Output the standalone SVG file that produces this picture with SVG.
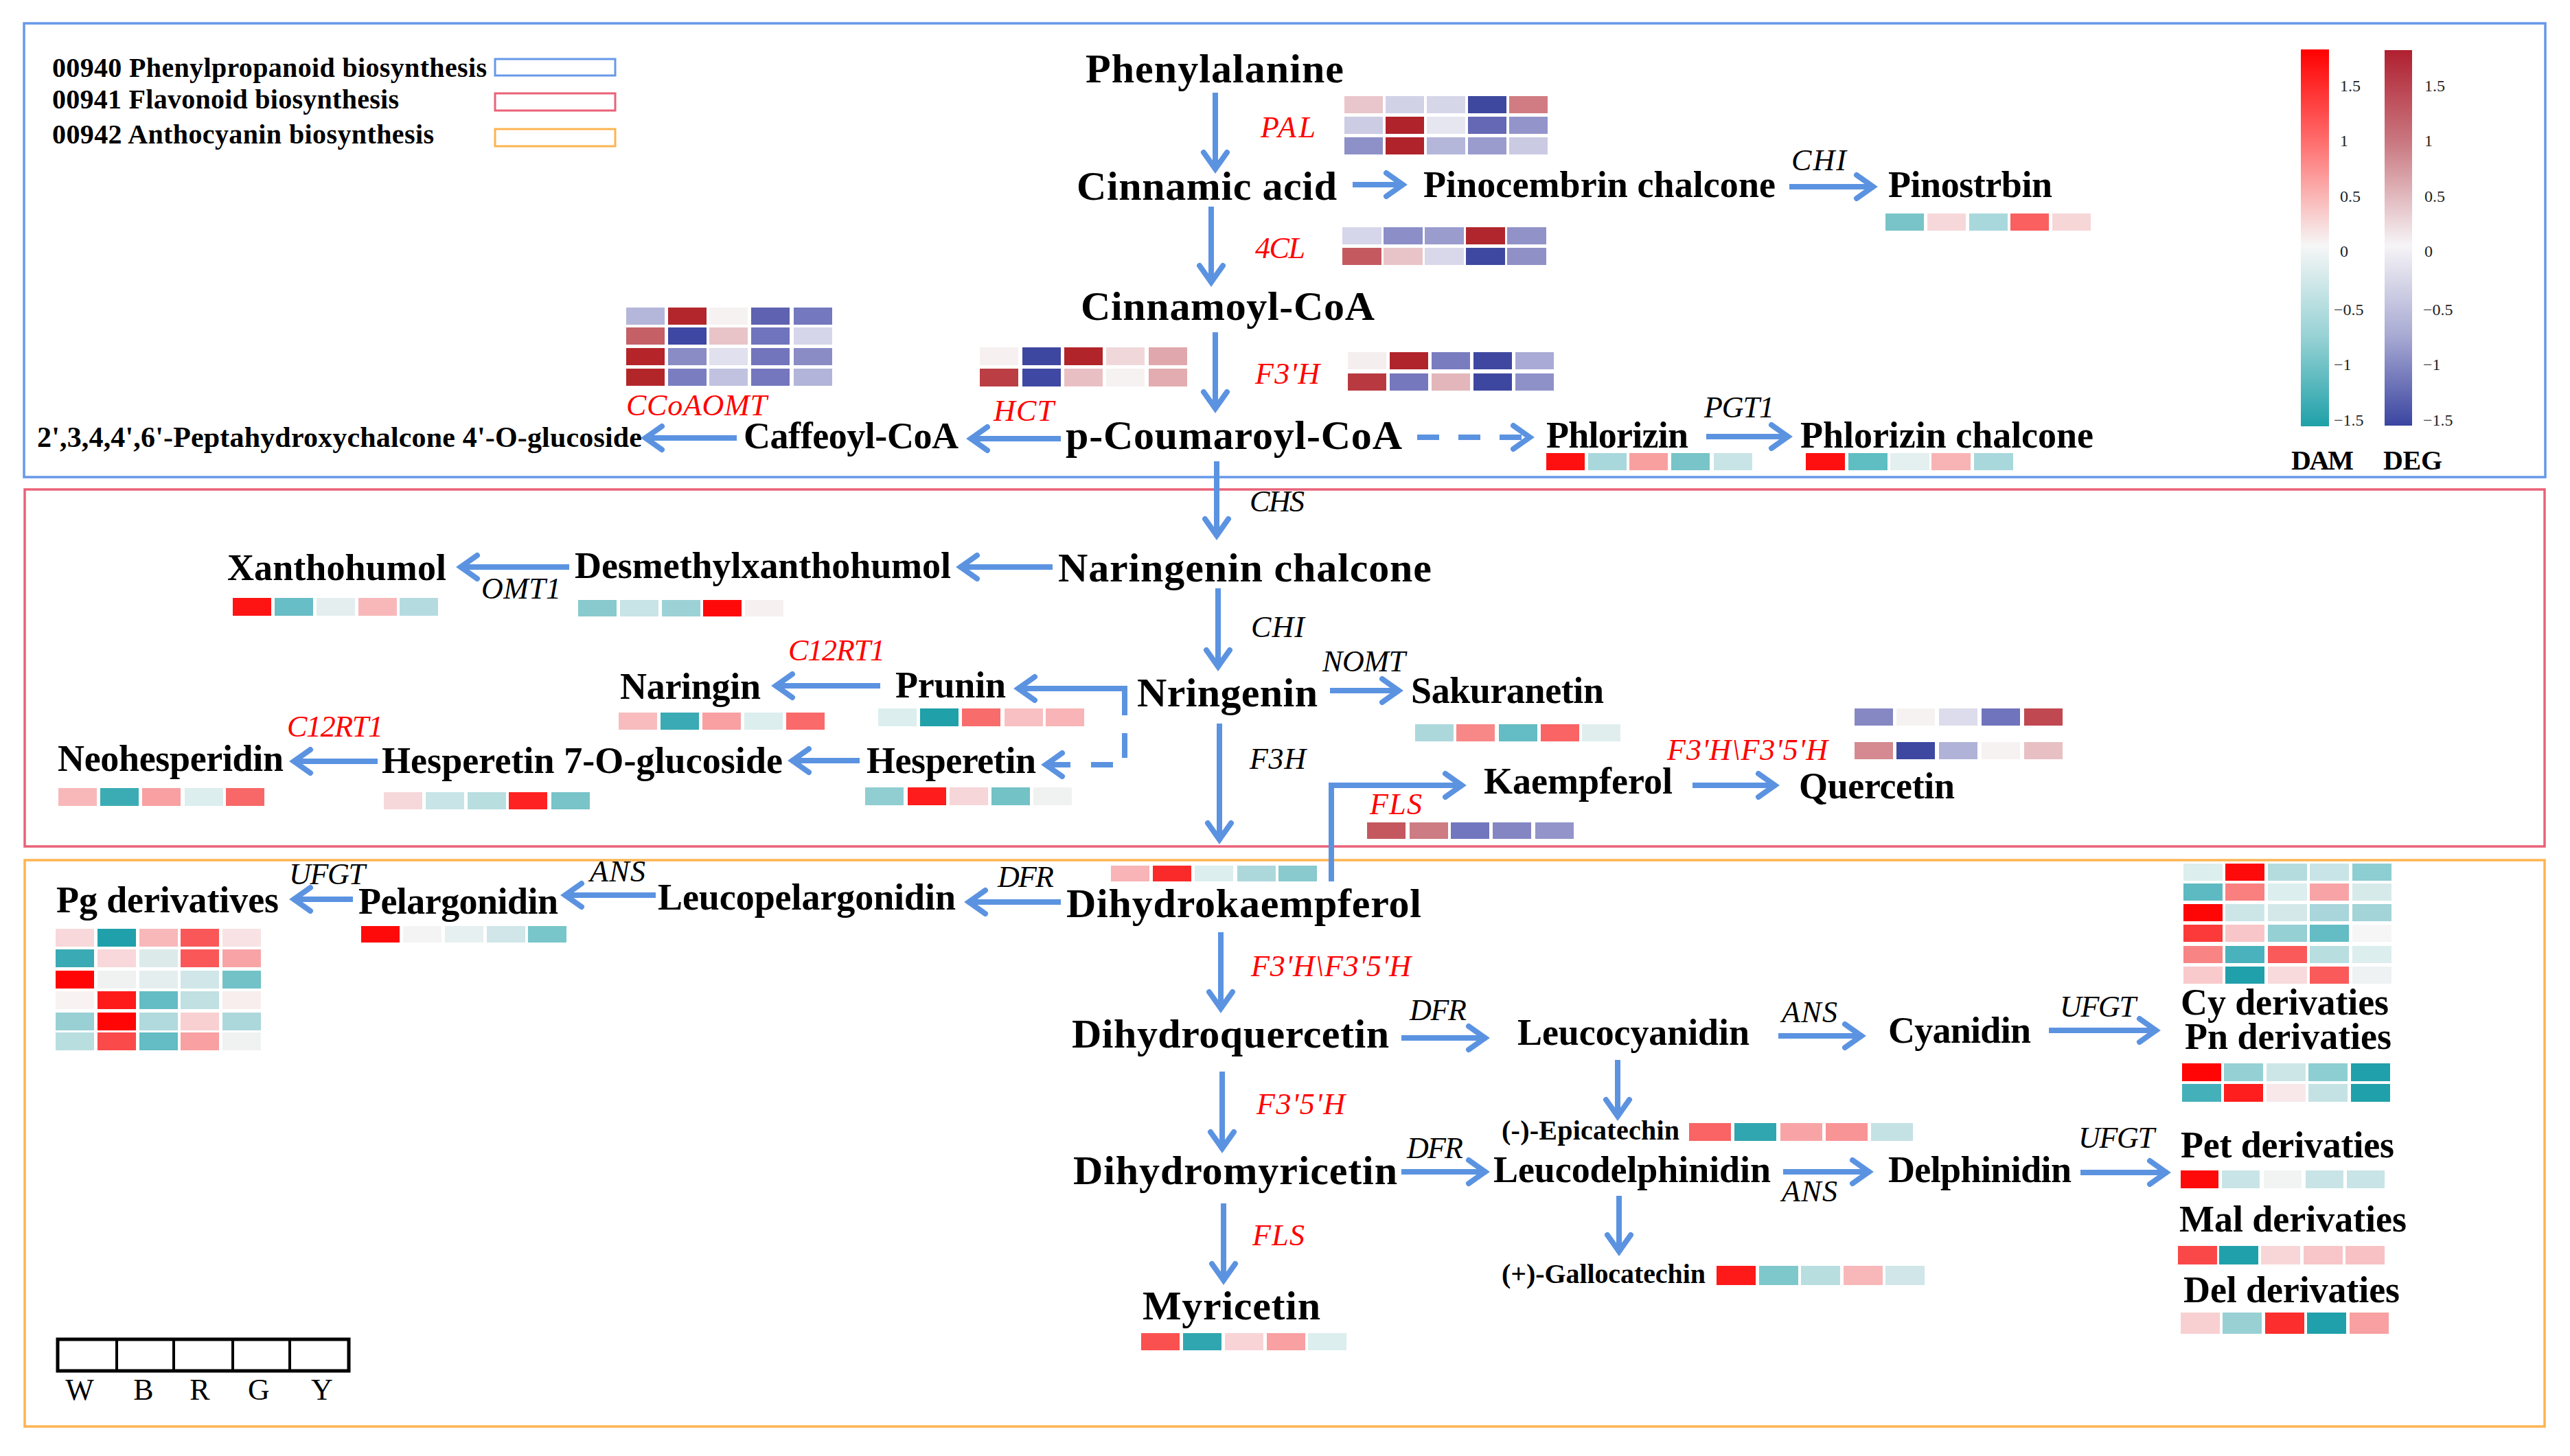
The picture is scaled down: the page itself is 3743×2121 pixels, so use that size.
<svg xmlns="http://www.w3.org/2000/svg" width="3743" height="2121" viewBox="0 0 3743 2121">
<style>
.n{font-family:"Liberation Serif","Times New Roman",serif;font-weight:bold;fill:#000}
.m{font-size:60px}.s{font-size:54px}.t{font-size:40px}
.e{font-family:"Liberation Serif","Times New Roman",serif;font-style:italic;font-size:44px}
.r{fill:#FF0000}.k{fill:#000}
.a{fill:none;stroke:#5B93E1;stroke-width:8;marker-end:url(#ah)}
.tk{font-family:"Liberation Serif","Times New Roman",serif;font-size:24px;fill:#222}
.lg{font-family:"Liberation Serif","Times New Roman",serif;font-weight:bold;font-size:40px;fill:#000}
.sc{font-family:"Liberation Serif","Times New Roman",serif;font-size:44px;fill:#000}
</style>
<defs>
<marker id="ah" viewBox="-40 -30 50 60" refX="0" refY="0" markerWidth="50" markerHeight="60" markerUnits="userSpaceOnUse" orient="auto">
<path d="M-26,-17 L-2,0 L-26,17" fill="none" stroke="#5B93E1" stroke-width="8" stroke-linecap="round"/>
</marker>
<linearGradient id="gDAM" x1="0" y1="0" x2="0" y2="1">
<stop offset="0" stop-color="#FF0000"/><stop offset="0.25" stop-color="#FF7070"/><stop offset="0.52" stop-color="#F6F6F6"/><stop offset="0.76" stop-color="#98D2D5"/><stop offset="1" stop-color="#1FA0A8"/>
</linearGradient>
<linearGradient id="gDEG" x1="0" y1="0" x2="0" y2="1">
<stop offset="0" stop-color="#B02030"/><stop offset="0.25" stop-color="#CA7A82"/><stop offset="0.52" stop-color="#F6F4F6"/><stop offset="0.76" stop-color="#A8AAD3"/><stop offset="1" stop-color="#3A45A0"/>
</linearGradient>
</defs>
<rect width="3743" height="2121" fill="#fff"/>

<g id="sections" fill="none" stroke-width="3.5">
<rect x="35" y="34" width="3672" height="661" stroke="#6699E8"/>
<rect x="36" y="713" width="3670" height="520" stroke="#EA6278"/>
<rect x="36" y="1253" width="3670" height="825" stroke="#FDB450"/>
</g>

<g id="legend">
<text class="lg" x="76" y="112" textLength="633">00940 Phenylpropanoid biosynthesis</text>
<text class="lg" x="76" y="158" textLength="505">00941 Flavonoid biosynthesis</text>
<text class="lg" x="76" y="209" textLength="556">00942 Anthocyanin biosynthesis</text>
<rect x="721" y="86" width="175" height="24" fill="none" stroke="#6699E8" stroke-width="3"/>
<rect x="721" y="136" width="175" height="25" fill="none" stroke="#EA6278" stroke-width="3"/>
<rect x="721" y="188" width="175" height="25" fill="none" stroke="#FDB450" stroke-width="3"/>
</g>

<g id="colorbars">
<rect x="3351" y="72" width="41" height="549" fill="url(#gDAM)"/>
<rect x="3473" y="73" width="40" height="547" fill="url(#gDEG)"/>
<text class="tk" x="3408" y="133">1.5</text><text class="tk" x="3408" y="213">1</text><text class="tk" x="3408" y="294">0.5</text><text class="tk" x="3408" y="374">0</text><text class="tk" x="3399" y="459">−0.5</text><text class="tk" x="3399" y="539">−1</text><text class="tk" x="3399" y="620">−1.5</text>
<text class="tk" x="3531" y="133">1.5</text><text class="tk" x="3531" y="213">1</text><text class="tk" x="3531" y="294">0.5</text><text class="tk" x="3531" y="374">0</text><text class="tk" x="3529" y="459">−0.5</text><text class="tk" x="3529" y="539">−1</text><text class="tk" x="3529" y="620">−1.5</text>
<text class="lg" x="3337" y="684" textLength="91">DAM</text>
<text class="lg" x="3471" y="684" textLength="86">DEG</text>
</g>

<g id="scale">
<rect x="84" y="1951" width="424" height="46" fill="none" stroke="#000" stroke-width="5"/>
<path d="M170,1951V1997M253,1951V1997M339,1951V1997M422,1951V1997" stroke="#000" stroke-width="4"/>
<text class="sc" x="116" y="2039" text-anchor="middle">W</text>
<text class="sc" x="209" y="2039" text-anchor="middle">B</text>
<text class="sc" x="291" y="2039" text-anchor="middle">R</text>
<text class="sc" x="377" y="2039" text-anchor="middle">G</text>
<text class="sc" x="469" y="2039" text-anchor="middle">Y</text>
</g>

<g id="connectors">
<path class="a" d="M1770,135V248"/>
<path class="a" d="M1970,269H2045"/>
<path class="a" d="M2606,272H2730"/>
<path class="a" d="M1764,301V413"/>
<path class="a" d="M1770,484V597"/>
<path class="a" d="M1545,639H1412"/>
<path class="a" d="M1073,638H938"/>
<path class="a" d="M2064,637H2230" stroke-dasharray="32 28"/>
<path class="a" d="M2485,636H2606"/>
<path class="a" d="M1772,672V782"/>
<path class="a" d="M1533,826H1397"/>
<path class="a" d="M829,826H669"/>
<path class="a" d="M1774,857V973"/>
<path class="a" d="M1937,1006H2039"/>
<path class="a" d="M1638,1042V1003H1481"/>
<path class="a" d="M1638,1068V1114H1521" stroke-dasharray="36 27 32 30"/>
<path class="a" d="M1282,999H1128"/>
<path class="a" d="M1252,1108H1152"/>
<path class="a" d="M550,1109H426"/>
<path class="a" d="M1776,1054V1225"/>
<path class="a" d="M1939,1284V1144H2131"/>
<path class="a" d="M2465,1144H2587"/>
<path class="a" d="M1545,1314H1409"/>
<path class="a" d="M955,1304H821"/>
<path class="a" d="M514,1310H426"/>
<path class="a" d="M1778,1358V1471"/>
<path class="a" d="M2041,1512H2165"/>
<path class="a" d="M2590,1509H2713"/>
<path class="a" d="M2984,1501H3142"/>
<path class="a" d="M2356,1544V1628"/>
<path class="a" d="M1780,1561V1675"/>
<path class="a" d="M2041,1707H2165"/>
<path class="a" d="M2597,1707H2724"/>
<path class="a" d="M3030,1708H3157"/>
<path class="a" d="M2358,1742V1825"/>
<path class="a" d="M1782,1753V1867"/>
</g>

<g id="enzymes">
<text class="e r" x="1836" y="200" textLength="80">PAL</text>
<text class="e r" x="1828" y="376" textLength="73">4CL</text>
<text class="e r" x="1828" y="559" textLength="94">F3'H</text>
<text class="e r" x="1447" y="613" textLength="88">HCT</text>
<text class="e r" x="912" y="605" textLength="205">CCoAOMT</text>
<text class="e k" x="2609" y="248" textLength="80">CHI</text>
<text class="e k" x="2482" y="608" textLength="102">PGT1</text>
<text class="e k" x="1820" y="745" textLength="80">CHS</text>
<text class="e k" x="701" y="872" textLength="116">OMT1</text>
<text class="e k" x="1822" y="928" textLength="78">CHI</text>
<text class="e k" x="1926" y="978" textLength="121">NOMT</text>
<text class="e r" x="1148" y="962" textLength="141">C12RT1</text>
<text class="e r" x="418" y="1073" textLength="140">C12RT1</text>
<text class="e k" x="1820" y="1120" textLength="82">F3H</text>
<text class="e r" x="1995" y="1186" textLength="76">FLS</text>
<text class="e r" x="2428" y="1107" textLength="234">F3'H\F3'5'H</text>
<text class="e k" x="1453" y="1292" textLength="82">DFR</text>
<text class="e k" x="859" y="1284" textLength="81">ANS</text>
<text class="e k" x="421" y="1288" textLength="111">UFGT</text>
<text class="e r" x="1822" y="1422" textLength="233">F3'H\F3'5'H</text>
<text class="e k" x="2053" y="1486" textLength="83">DFR</text>
<text class="e k" x="2595" y="1489" textLength="81">ANS</text>
<text class="e k" x="3000" y="1481" textLength="111">UFGT</text>
<text class="e r" x="1830" y="1623" textLength="129">F3'5'H</text>
<text class="e k" x="2049" y="1687" textLength="82">DFR</text>
<text class="e k" x="2595" y="1750" textLength="81">ANS</text>
<text class="e k" x="3027" y="1672" textLength="111">UFGT</text>
<text class="e r" x="1824" y="1814" textLength="76">FLS</text>
</g>

<g id="hm-PAL">
<rect x="1958" y="140" width="56" height="25" fill="#E9C6CB"/><rect x="2018" y="140" width="56" height="25" fill="#D2D2E7"/><rect x="2078" y="140" width="56" height="25" fill="#D6D6E9"/><rect x="2138" y="140" width="56" height="25" fill="#3F489F"/><rect x="2198" y="140" width="56" height="25" fill="#D07C82"/>
<rect x="1958" y="170" width="56" height="25" fill="#CCCCE4"/><rect x="2018" y="170" width="56" height="25" fill="#B0232A"/><rect x="2078" y="170" width="56" height="25" fill="#E6E6F0"/><rect x="2138" y="170" width="56" height="25" fill="#6468B5"/><rect x="2198" y="170" width="56" height="25" fill="#9294CA"/>
<rect x="1958" y="200" width="56" height="25" fill="#8E90C8"/><rect x="2018" y="200" width="56" height="25" fill="#B0232A"/><rect x="2078" y="200" width="56" height="25" fill="#B5B7DA"/><rect x="2138" y="200" width="56" height="25" fill="#9A9CCE"/><rect x="2198" y="200" width="56" height="25" fill="#CACAE3"/>
</g>
<g id="hm-4CL">
<rect x="1955" y="331" width="57" height="25" fill="#D6D6EA"/><rect x="2015" y="331" width="57" height="25" fill="#8C8EC8"/><rect x="2075" y="331" width="57" height="25" fill="#9A9CCE"/><rect x="2135" y="331" width="57" height="25" fill="#B0262C"/><rect x="2195" y="331" width="57" height="25" fill="#9092C8"/>
<rect x="1955" y="361" width="57" height="25" fill="#C45A60"/><rect x="2015" y="361" width="57" height="25" fill="#E8C4C8"/><rect x="2075" y="361" width="57" height="25" fill="#D8D8EA"/><rect x="2135" y="361" width="57" height="25" fill="#3F48A0"/><rect x="2195" y="361" width="57" height="25" fill="#8E90C6"/>
</g>
<g id="hm-F3H-top">
<rect x="1963" y="513" width="56" height="25" fill="#F4EEEE"/><rect x="2024" y="513" width="56" height="25" fill="#B0252B"/><rect x="2085" y="513" width="56" height="25" fill="#7A7CC0"/><rect x="2146" y="513" width="56" height="25" fill="#3F47A0"/><rect x="2207" y="513" width="56" height="25" fill="#A9ABD6"/>
<rect x="1963" y="544" width="56" height="25" fill="#B83A40"/><rect x="2024" y="544" width="56" height="25" fill="#7678BE"/><rect x="2085" y="544" width="56" height="25" fill="#E2B6BA"/><rect x="2146" y="544" width="56" height="25" fill="#3E47A0"/><rect x="2207" y="544" width="56" height="25" fill="#8E90C8"/>
</g>
<g id="hm-HCT">
<rect x="1427" y="506" width="56" height="26" fill="#F6F0F0"/><rect x="1489" y="506" width="56" height="26" fill="#3E47A0"/><rect x="1550" y="506" width="56" height="26" fill="#B0242A"/><rect x="1611" y="506" width="56" height="26" fill="#F0D8DA"/><rect x="1673" y="506" width="56" height="26" fill="#E0A8AC"/>
<rect x="1427" y="537" width="56" height="26" fill="#BA3E44"/><rect x="1489" y="537" width="56" height="26" fill="#3F48A2"/><rect x="1550" y="537" width="56" height="26" fill="#E8C0C4"/><rect x="1611" y="537" width="56" height="26" fill="#F6F2F2"/><rect x="1673" y="537" width="56" height="26" fill="#E2ACB0"/>
</g>
<g id="hm-CCoAOMT">
<rect x="912" y="448" width="56" height="25" fill="#B4B6DA"/><rect x="973" y="448" width="56" height="25" fill="#B2262C"/><rect x="1033" y="448" width="56" height="25" fill="#F6F2F2"/><rect x="1094" y="448" width="56" height="25" fill="#5E62B0"/><rect x="1156" y="448" width="56" height="25" fill="#7478BE"/>
<rect x="912" y="477" width="56" height="25" fill="#C46066"/><rect x="973" y="477" width="56" height="25" fill="#3E47A2"/><rect x="1033" y="477" width="56" height="25" fill="#E8C4C8"/><rect x="1094" y="477" width="56" height="25" fill="#7074BC"/><rect x="1156" y="477" width="56" height="25" fill="#D6D6EA"/>
<rect x="912" y="507" width="56" height="25" fill="#B42428"/><rect x="973" y="507" width="56" height="25" fill="#8A8CC6"/><rect x="1033" y="507" width="56" height="25" fill="#E0E0EE"/><rect x="1094" y="507" width="56" height="25" fill="#7274BC"/><rect x="1156" y="507" width="56" height="25" fill="#8A8CC6"/>
<rect x="912" y="537" width="56" height="25" fill="#B2262A"/><rect x="973" y="537" width="56" height="25" fill="#7A7EC0"/><rect x="1033" y="537" width="56" height="25" fill="#C0C2E0"/><rect x="1094" y="537" width="56" height="25" fill="#7476BE"/><rect x="1156" y="537" width="56" height="25" fill="#B2B4D9"/>
</g>
<g id="hm-F3H-F35H">
<rect x="2701" y="1032" width="56" height="25" fill="#8688C4"/><rect x="2762" y="1032" width="56" height="25" fill="#F6F2F2"/><rect x="2824" y="1032" width="56" height="25" fill="#DCDCEC"/><rect x="2886" y="1032" width="56" height="25" fill="#7074BC"/><rect x="2948" y="1032" width="56" height="25" fill="#C04850"/>
<rect x="2701" y="1081" width="56" height="25" fill="#D48A90"/><rect x="2762" y="1081" width="56" height="25" fill="#3E48A0"/><rect x="2824" y="1081" width="56" height="25" fill="#B0B2D8"/><rect x="2886" y="1081" width="56" height="25" fill="#F6F2F2"/><rect x="2948" y="1081" width="56" height="25" fill="#E8C0C4"/>
</g>
<g id="hm-FLS">
<rect x="1991" y="1198" width="56" height="24" fill="#C4585E"/><rect x="2053" y="1198" width="56" height="24" fill="#CC7C82"/><rect x="2113" y="1198" width="56" height="24" fill="#7276BE"/><rect x="2174" y="1198" width="56" height="24" fill="#8486C4"/><rect x="2236" y="1198" width="56" height="24" fill="#9294CA"/>
</g>

<g id="phenylalanine"><text class="n m" x="1581" y="120" textLength="376">Phenylalanine</text></g>
<g id="cinnamic-acid"><text class="n m" x="1568" y="291" textLength="379">Cinnamic acid</text></g>
<g id="pinocembrin-chalcone"><text class="n s" x="2073" y="287" textLength="513">Pinocembrin chalcone</text></g>
<g id="pinostrbin"><text class="n s" x="2750" y="287" textLength="239">Pinostrbin</text>
<rect x="2746" y="311" width="56" height="25" fill="#78C4C8"/><rect x="2807" y="311" width="56" height="25" fill="#F6D8DA"/><rect x="2868" y="311" width="56" height="25" fill="#A8D8DC"/><rect x="2928" y="311" width="56" height="25" fill="#FA6060"/><rect x="2989" y="311" width="56" height="25" fill="#F7D6D8"/></g>
<g id="cinnamoyl-coa"><text class="n m" x="1574" y="466" textLength="428">Cinnamoyl-CoA</text></g>
<g id="p-coumaroyl-coa"><text class="n m" x="1552" y="654" textLength="490">p-Coumaroyl-CoA</text></g>
<g id="caffeoyl-coa"><text class="n s" x="1083" y="653" textLength="313">Caffeoyl-CoA</text></g>
<g id="peptahydroxychalcone"><text class="n" style="font-size:42px" x="54" y="651" textLength="881">2',3,4,4',6'-Peptahydroxychalcone 4'-O-glucoside</text></g>
<g id="phlorizin"><text class="n s" x="2252" y="652" textLength="207">Phlorizin</text>
<rect x="2252" y="660" width="56" height="25" fill="#FF1010"/><rect x="2313" y="660" width="56" height="25" fill="#A8D8DC"/><rect x="2373" y="660" width="56" height="25" fill="#F8A0A0"/><rect x="2434" y="660" width="56" height="25" fill="#78C4C8"/><rect x="2496" y="660" width="56" height="25" fill="#C8E4E6"/></g>
<g id="phlorizin-chalcone"><text class="n s" x="2622" y="652" textLength="427">Phlorizin chalcone</text>
<rect x="2630" y="660" width="57" height="25" fill="#FF1010"/><rect x="2692" y="660" width="57" height="25" fill="#5EBEC2"/><rect x="2753" y="660" width="57" height="25" fill="#E4F0F0"/><rect x="2813" y="660" width="57" height="25" fill="#F8B4B4"/><rect x="2875" y="660" width="57" height="25" fill="#A8D8DC"/></g>

<g id="naringenin-chalcone"><text class="n m" x="1541" y="847" textLength="544">Naringenin chalcone</text></g>
<g id="desmethylxanthohumol"><text class="n s" x="837" y="842" textLength="548">Desmethylxanthohumol</text>
<rect x="842" y="874" width="56" height="24" fill="#88CACE"/><rect x="903" y="874" width="56" height="24" fill="#C8E4E6"/><rect x="964" y="874" width="56" height="24" fill="#9CD2D6"/><rect x="1024" y="874" width="56" height="24" fill="#FF0A0A"/><rect x="1085" y="874" width="56" height="24" fill="#F6F0F0"/></g>
<g id="xanthohumol"><text class="n s" x="331" y="845" textLength="319">Xanthohumol</text>
<rect x="339" y="871" width="56" height="26" fill="#FF1414"/><rect x="400" y="871" width="56" height="26" fill="#68BEC6"/><rect x="461" y="871" width="56" height="26" fill="#E4EEEE"/><rect x="522" y="871" width="56" height="26" fill="#F8B8BA"/><rect x="582" y="871" width="56" height="26" fill="#B4DCE0"/></g>
<g id="nringenin"><text class="n m" x="1656" y="1029" textLength="263">Nringenin</text></g>
<g id="sakuranetin"><text class="n s" x="2055" y="1024" textLength="281">Sakuranetin</text>
<rect x="2061" y="1055" width="56" height="25" fill="#ACD8DC"/><rect x="2121" y="1055" width="56" height="25" fill="#F88888"/><rect x="2183" y="1055" width="56" height="25" fill="#64BCC4"/><rect x="2244" y="1055" width="56" height="25" fill="#FA6464"/><rect x="2304" y="1055" width="56" height="25" fill="#E0EEEE"/></g>
<g id="prunin"><text class="n s" x="1304" y="1016" textLength="161">Prunin</text>
<rect x="1279" y="1032" width="56" height="26" fill="#DCEEEE"/><rect x="1340" y="1032" width="56" height="26" fill="#20A0A8"/><rect x="1401" y="1032" width="56" height="26" fill="#F86C6C"/><rect x="1463" y="1032" width="56" height="26" fill="#F8C0C2"/><rect x="1523" y="1032" width="56" height="26" fill="#F8B4B6"/></g>
<g id="naringin"><text class="n s" x="903" y="1018" textLength="205">Naringin</text>
<rect x="901" y="1038" width="56" height="25" fill="#F8BCBE"/><rect x="962" y="1038" width="56" height="25" fill="#3AAAB4"/><rect x="1023" y="1038" width="56" height="25" fill="#F8A0A2"/><rect x="1084" y="1038" width="56" height="25" fill="#DCEEEE"/><rect x="1145" y="1038" width="56" height="25" fill="#FA6A6A"/></g>
<g id="hesperetin"><text class="n s" x="1262" y="1126" textLength="247">Hesperetin</text>
<rect x="1260" y="1147" width="56" height="26" fill="#90CED2"/><rect x="1322" y="1147" width="56" height="26" fill="#FF1C1C"/><rect x="1383" y="1147" width="56" height="26" fill="#F6D6D8"/><rect x="1444" y="1147" width="56" height="26" fill="#72C2C6"/><rect x="1505" y="1147" width="56" height="26" fill="#F0F2F2"/></g>
<g id="hesperetin-7-o-glucoside"><text class="n s" x="556" y="1126" textLength="584">Hesperetin 7-O-glucoside</text>
<rect x="559" y="1154" width="56" height="25" fill="#F6D8DA"/><rect x="620" y="1154" width="56" height="25" fill="#C8E4E6"/><rect x="681" y="1154" width="56" height="25" fill="#B8DEE0"/><rect x="741" y="1154" width="56" height="25" fill="#FF2222"/><rect x="803" y="1154" width="56" height="25" fill="#78C4C8"/></g>
<g id="neohesperidin"><text class="n s" x="84" y="1123" textLength="329">Neohesperidin</text>
<rect x="85" y="1148" width="56" height="26" fill="#F8B8BA"/><rect x="146" y="1148" width="56" height="26" fill="#3CACB4"/><rect x="207" y="1148" width="56" height="26" fill="#F8A0A2"/><rect x="269" y="1148" width="56" height="26" fill="#DCEEEE"/><rect x="329" y="1148" width="56" height="26" fill="#F86868"/></g>
<g id="kaempferol"><text class="n s" x="2161" y="1156" textLength="275">Kaempferol</text></g>
<g id="quercetin"><text class="n s" x="2620" y="1163" textLength="227">Quercetin</text></g>

<g id="dihydrokaempferol"><text class="n m" x="1553" y="1336" textLength="517">Dihydrokaempferol</text>
<rect x="1618" y="1261" width="56" height="23" fill="#F8B4B6"/><rect x="1679" y="1261" width="56" height="23" fill="#FA2A2A"/><rect x="1740" y="1261" width="56" height="23" fill="#DCEEEE"/><rect x="1802" y="1261" width="56" height="23" fill="#ACD8DC"/><rect x="1862" y="1261" width="56" height="23" fill="#88CACE"/></g>
<g id="leucopelargonidin"><text class="n s" x="958" y="1325" textLength="434">Leucopelargonidin</text></g>
<g id="pelargonidin"><text class="n s" x="522" y="1331" textLength="291">Pelargonidin</text>
<rect x="526" y="1349" width="56" height="24" fill="#FF0A0A"/><rect x="587" y="1349" width="56" height="24" fill="#F4F4F4"/><rect x="648" y="1349" width="56" height="24" fill="#E6F0F0"/><rect x="709" y="1349" width="56" height="24" fill="#D0E6E8"/><rect x="769" y="1349" width="56" height="24" fill="#78C6CA"/></g>
<g id="pg-derivatives"><text class="n s" x="82" y="1329" textLength="324">Pg derivatives</text>
<rect x="81" y="1353" width="56" height="26" fill="#F8D8DA"/><rect x="142" y="1353" width="56" height="26" fill="#20A0AA"/><rect x="203" y="1353" width="56" height="26" fill="#F8B8BA"/><rect x="263" y="1353" width="56" height="26" fill="#FA5858"/><rect x="324" y="1353" width="56" height="26" fill="#F8E2E4"/>
<rect x="81" y="1383" width="56" height="26" fill="#3AAAB4"/><rect x="142" y="1383" width="56" height="26" fill="#F8D8DA"/><rect x="203" y="1383" width="56" height="26" fill="#DCEAEA"/><rect x="263" y="1383" width="56" height="26" fill="#FA5858"/><rect x="324" y="1383" width="56" height="26" fill="#F8A4A6"/>
<rect x="81" y="1414" width="56" height="26" fill="#FF0505"/><rect x="142" y="1414" width="56" height="26" fill="#F0F2F2"/><rect x="203" y="1414" width="56" height="26" fill="#E4EEEE"/><rect x="263" y="1414" width="56" height="26" fill="#D0E6E8"/><rect x="324" y="1414" width="56" height="26" fill="#72C2C8"/>
<rect x="81" y="1444" width="56" height="26" fill="#F8F2F2"/><rect x="142" y="1444" width="56" height="26" fill="#FF1A1A"/><rect x="203" y="1444" width="56" height="26" fill="#64BCC4"/><rect x="263" y="1444" width="56" height="26" fill="#C0E0E2"/><rect x="324" y="1444" width="56" height="26" fill="#F8EEEE"/>
<rect x="81" y="1475" width="56" height="26" fill="#98D0D4"/><rect x="142" y="1475" width="56" height="26" fill="#FF0505"/><rect x="203" y="1475" width="56" height="26" fill="#B0DADE"/><rect x="263" y="1475" width="56" height="26" fill="#F8D0D2"/><rect x="324" y="1475" width="56" height="26" fill="#ACD8DC"/>
<rect x="81" y="1504" width="56" height="26" fill="#B8DEE0"/><rect x="142" y="1504" width="56" height="26" fill="#FA4A4A"/><rect x="203" y="1504" width="56" height="26" fill="#64BCC4"/><rect x="263" y="1504" width="56" height="26" fill="#F8A0A2"/><rect x="324" y="1504" width="56" height="26" fill="#F0F2F2"/></g>
<g id="dihydroquercetin"><text class="n m" x="1561" y="1526" textLength="462">Dihydroquercetin</text></g>
<g id="leucocyanidin"><text class="n s" x="2210" y="1522" textLength="338">Leucocyanidin</text></g>
<g id="cyanidin"><text class="n s" x="2750" y="1519" textLength="208">Cyanidin</text></g>
<g id="cy-derivaties"><text class="n s" x="3176" y="1478" textLength="303">Cy derivaties</text>
<rect x="3180" y="1258" width="57" height="25" fill="#DCEEEE"/><rect x="3241" y="1258" width="57" height="25" fill="#FF0A0A"/><rect x="3303" y="1258" width="57" height="25" fill="#B4DCDE"/><rect x="3364" y="1258" width="57" height="25" fill="#C8E4E6"/><rect x="3426" y="1258" width="57" height="25" fill="#8CCED2"/>
<rect x="3180" y="1287" width="57" height="25" fill="#5EBAC2"/><rect x="3241" y="1287" width="57" height="25" fill="#FA8080"/><rect x="3303" y="1287" width="57" height="25" fill="#DCEEEE"/><rect x="3364" y="1287" width="57" height="25" fill="#F8A4A6"/><rect x="3426" y="1287" width="57" height="25" fill="#D6EAEA"/>
<rect x="3180" y="1317" width="57" height="25" fill="#FF0606"/><rect x="3241" y="1317" width="57" height="25" fill="#CCE6E8"/><rect x="3303" y="1317" width="57" height="25" fill="#D4E8EA"/><rect x="3364" y="1317" width="57" height="25" fill="#A8D6DA"/><rect x="3426" y="1317" width="57" height="25" fill="#A2D4D8"/>
<rect x="3180" y="1347" width="57" height="25" fill="#FC3A3A"/><rect x="3241" y="1347" width="57" height="25" fill="#F8C6C8"/><rect x="3303" y="1347" width="57" height="25" fill="#94D0D4"/><rect x="3364" y="1347" width="57" height="25" fill="#64BCC4"/><rect x="3426" y="1347" width="57" height="25" fill="#F6F6F6"/>
<rect x="3180" y="1378" width="57" height="25" fill="#F88484"/><rect x="3241" y="1378" width="57" height="25" fill="#4AB2BC"/><rect x="3303" y="1378" width="57" height="25" fill="#FA5A5A"/><rect x="3364" y="1378" width="57" height="25" fill="#B8DEE0"/><rect x="3426" y="1378" width="57" height="25" fill="#DCEEEE"/>
<rect x="3180" y="1408" width="57" height="25" fill="#F8CACC"/><rect x="3241" y="1408" width="57" height="25" fill="#20A0AA"/><rect x="3303" y="1408" width="57" height="25" fill="#F8DADC"/><rect x="3364" y="1408" width="57" height="25" fill="#FA5A5A"/><rect x="3426" y="1408" width="57" height="25" fill="#EEF2F2"/></g>
<g id="pn-derivaties"><text class="n s" x="3182" y="1528" textLength="301">Pn derivaties</text>
<rect x="3178" y="1549" width="57" height="26" fill="#FF0505"/><rect x="3239" y="1549" width="57" height="26" fill="#94D0D4"/><rect x="3301" y="1549" width="57" height="26" fill="#CCE6E8"/><rect x="3362" y="1549" width="57" height="26" fill="#8CCED2"/><rect x="3424" y="1549" width="57" height="26" fill="#20A0AA"/>
<rect x="3178" y="1579" width="57" height="26" fill="#44B0BA"/><rect x="3239" y="1579" width="57" height="26" fill="#FF1E1E"/><rect x="3301" y="1579" width="57" height="26" fill="#F8E8EA"/><rect x="3362" y="1579" width="57" height="26" fill="#C4E2E4"/><rect x="3424" y="1579" width="57" height="26" fill="#20A0AA"/></g>
<g id="epicatechin"><text class="n t" x="2187" y="1660" textLength="259">(-)-Epicatechin</text>
<rect x="2460" y="1636" width="61" height="26" fill="#FA6464"/><rect x="2526" y="1636" width="61" height="26" fill="#30A6B0"/><rect x="2593" y="1636" width="61" height="26" fill="#F8A4A6"/><rect x="2659" y="1636" width="61" height="26" fill="#F89496"/><rect x="2725" y="1636" width="61" height="26" fill="#C4E2E4"/></g>
<g id="dihydromyricetin"><text class="n m" x="1563" y="1725" textLength="472">Dihydromyricetin</text></g>
<g id="leucodelphinidin"><text class="n s" x="2175" y="1722" textLength="404">Leucodelphinidin</text></g>
<g id="delphinidin"><text class="n s" x="2750" y="1722" textLength="267">Delphinidin</text></g>
<g id="pet-derivaties"><text class="n s" x="3176" y="1686" textLength="311">Pet derivaties</text>
<rect x="3176" y="1705" width="55" height="26" fill="#FF0A0A"/><rect x="3236" y="1705" width="55" height="26" fill="#C8E4E6"/><rect x="3297" y="1705" width="55" height="26" fill="#F2F4F4"/><rect x="3358" y="1705" width="55" height="26" fill="#C8E4E6"/><rect x="3418" y="1705" width="55" height="26" fill="#C8E4E6"/></g>
<g id="mal-derivaties"><text class="n s" x="3174" y="1794" textLength="331">Mal derivaties</text>
<rect x="3172" y="1815" width="57" height="27" fill="#FA4848"/><rect x="3232" y="1815" width="57" height="27" fill="#20A0AA"/><rect x="3293" y="1815" width="57" height="27" fill="#F8D6D8"/><rect x="3355" y="1815" width="57" height="27" fill="#F8C6C8"/><rect x="3416" y="1815" width="57" height="27" fill="#F8C2C4"/></g>
<g id="del-derivaties"><text class="n s" x="3180" y="1897" textLength="315">Del derivaties</text>
<rect x="3176" y="1912" width="57" height="31" fill="#F8D0D2"/><rect x="3237" y="1912" width="57" height="31" fill="#98D0D4"/><rect x="3299" y="1912" width="57" height="31" fill="#FC2E2E"/><rect x="3360" y="1912" width="57" height="31" fill="#20A0AA"/><rect x="3422" y="1912" width="57" height="31" fill="#F8A0A2"/></g>
<g id="gallocatechin"><text class="n t" x="2187" y="1869" textLength="297">(+)-Gallocatechin</text>
<rect x="2500" y="1844" width="57" height="28" fill="#FF1A1A"/><rect x="2562" y="1844" width="57" height="28" fill="#7EC8CC"/><rect x="2623" y="1844" width="57" height="28" fill="#B8DEE0"/><rect x="2685" y="1844" width="57" height="28" fill="#F8B8BA"/><rect x="2746" y="1844" width="57" height="28" fill="#D0E6E8"/></g>
<g id="myricetin"><text class="n m" x="1664" y="1922" textLength="259">Myricetin</text>
<rect x="1662" y="1942" width="56" height="25" fill="#FA5050"/><rect x="1723" y="1942" width="56" height="25" fill="#30A6B0"/><rect x="1784" y="1942" width="56" height="25" fill="#F8D4D6"/><rect x="1845" y="1942" width="56" height="25" fill="#F8A0A2"/><rect x="1905" y="1942" width="56" height="25" fill="#DCEEEE"/></g>
</svg>
